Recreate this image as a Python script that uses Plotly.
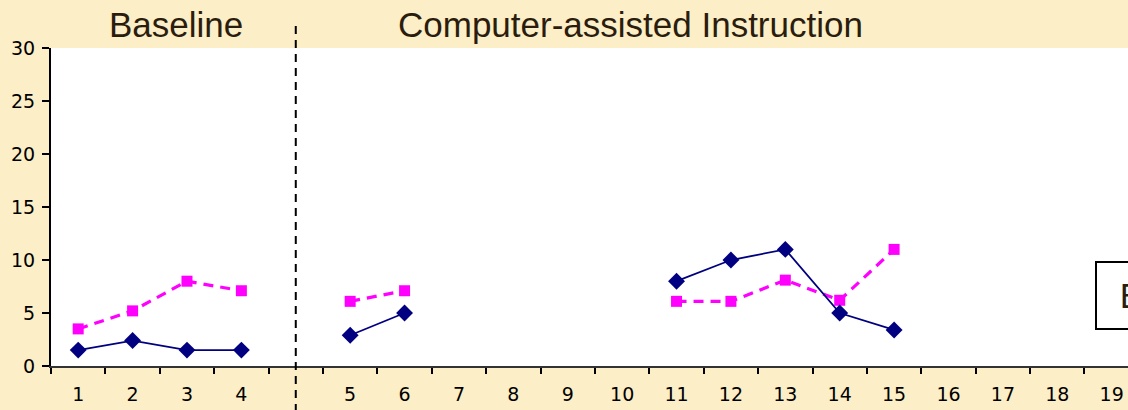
import plotly.graph_objects as go

# Categories (blank slot separates baseline from intervention phase)
categories = ["1", "2", "3", "4", " ", "5", "6", "7", "8", "9", "10",
              "11", "12", "13", "14", "15", "16", "17", "18", "19"]

# Series values (None = no session / break in line)
series_navy = [1.5, 2.4, 1.5, 1.5, None, 2.9, 5.0, None, None, None, None,
               8.0, 10.0, 11.0, 5.0, 3.4, None, None, None, None]
series_magenta = [3.5, 5.2, 8.0, 7.1, None, 6.1, 7.1, None, None, None, None,
                  6.1, 6.1, 8.1, 6.2, 11.0, None, None, None, None]

phase_labels = ["Baseline", "Computer-assisted Instruction"]
y_ticks = [0, 5, 10, 15, 20, 25, 30]

W, H = 1128, 410
ML, MR, MT, MB = 51, 0, 48, 44
PH = H - MT - MB
x_range = [-0.5, 19.3]
y_range = [0, 30]
gap_index = categories.index(" ")

def xpaper(v):
    return (v - x_range[0]) / (x_range[1] - x_range[0])

def paper_from_px(px):
    return (px - ML) / (W - ML - MR)

def ypaper_from_px(py):
    return (H - MB - py) / PH

fig = go.Figure()
# invisible trace so the overlay axes (short visible ticks + axis lines) are drawn
fig.add_trace(go.Scatter(
    x=categories, y=[0] * len(categories), xaxis="x2", yaxis="y2",
    mode="markers", marker=dict(opacity=0), showlegend=False, hoverinfo="skip"))
fig.add_trace(go.Scatter(
    x=categories, y=series_magenta, mode="lines+markers",
    line=dict(color="#FF00FF", width=3.2, dash="10px,7px"),
    marker=dict(symbol="square", size=11, color="#FF00FF"),
    connectgaps=False, showlegend=False, hoverinfo="skip"))
fig.add_trace(go.Scatter(
    x=categories, y=series_navy, mode="lines+markers",
    line=dict(color="#000080", width=1.8),
    marker=dict(symbol="diamond", size=13, color="#000080"),
    connectgaps=False, showlegend=False, hoverinfo="skip"))

tick_font = dict(family="DejaVu Sans", size=19, color="#000000")
fig.update_layout(
    width=W, height=H,
    margin=dict(l=ML, r=MR, t=MT, b=MB, pad=0),
    paper_bgcolor="#FCEEC6",
    plot_bgcolor="#FFFFFF",
    font=dict(family="DejaVu Sans", color="#000000", size=19),
    # label-carrying axes (invisible, longer ticks push labels outward)
    xaxis=dict(
        type="category", categoryorder="array", categoryarray=categories,
        range=x_range, ticks="outside", ticklen=11, tickcolor="rgba(0,0,0,0)",
        automargin=False, showline=False, showgrid=False, zeroline=False,
        tickfont=tick_font),
    yaxis=dict(
        range=y_range, tickvals=y_ticks, ticks="outside", ticklen=11,
        tickcolor="rgba(0,0,0,0)", automargin=False,
        showline=False, showgrid=False, zeroline=False,
        tickfont=tick_font),
    # overlay axes drawing the short tick marks and the axis lines
    xaxis2=dict(
        type="category", categoryorder="array", categoryarray=categories,
        range=x_range, overlaying="x", side="bottom", anchor="y2",
        tickson="boundaries", ticks="outside", ticklen=6, tickwidth=2,
        tickcolor="#000000", showticklabels=False, automargin=False,
        showline=True, linecolor="#333333", linewidth=2,
        showgrid=False, zeroline=False),
    yaxis2=dict(
        range=y_range, tickvals=y_ticks, overlaying="y", side="left", anchor="x2",
        ticks="outside", ticklen=7, tickwidth=2, tickcolor="#000000",
        showticklabels=False, automargin=False,
        showline=True, linecolor="#000000", linewidth=2,
        showgrid=False, zeroline=False),
)

# Phase-change dashed line (from title band down past the axis labels)
gx = xpaper(gap_index)
fig.add_shape(type="line", xref="paper", yref="paper",
              x0=gx, x1=gx, y0=ypaper_from_px(H + 2), y1=ypaper_from_px(21),
              line=dict(color="#000000", width=2, dash="8px,6px"))

title_font = dict(family="Liberation Sans, Arial, sans-serif", size=35, color="#2B1D0E")
fig.add_annotation(text=phase_labels[0], xref="paper", yref="paper",
                   x=paper_from_px(176), y=ypaper_from_px(24),
                   xanchor="center", yanchor="middle", showarrow=False, font=title_font)
fig.add_annotation(text=phase_labels[1], xref="paper", yref="paper",
                   x=paper_from_px(630), y=ypaper_from_px(24),
                   xanchor="center", yanchor="middle", showarrow=False, font=title_font)
# Boxed phase label at right (cut off by the page edge, as in the reference)
fig.add_annotation(text=" " + phase_labels[0], xref="paper", yref="paper",
                   x=paper_from_px(1095), y=ypaper_from_px(295),
                   xanchor="left", yanchor="middle", showarrow=False, font=title_font,
                   bordercolor="#000000", borderwidth=2, borderpad=13, bgcolor="#FFFFFF")

fig.write_html("out.html")
